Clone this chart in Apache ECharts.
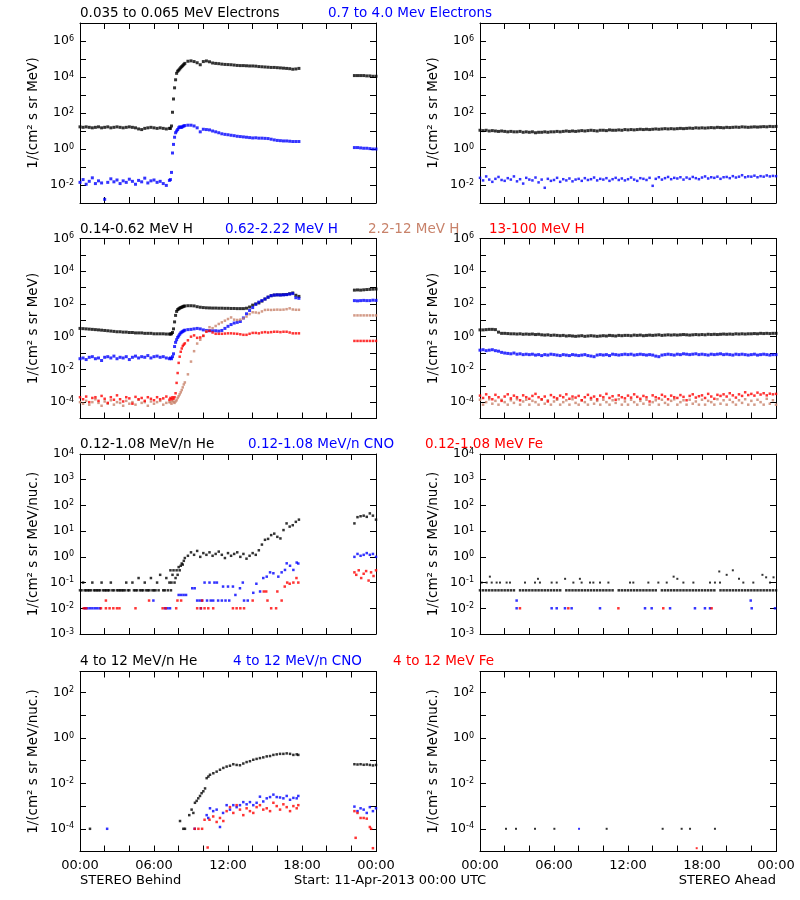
<!DOCTYPE html>
<html><head><meta charset="utf-8">
<script src="https://cdn.jsdelivr.net/npm/echarts@6/dist/echarts.min.js"></script>
<style>html,body{margin:0;padding:0;background:#fff}#c{width:800px;height:900px}</style>
</head><body><div id="c"></div><script>
// ---------------- DATA ----------------
// Hours (UTC) of STEREO Behind samples: 15-min, denser around onset, data gap 17:45-22:15
const hoursBehind = [
 0,0.25,0.5,0.75,1,1.25,1.5,1.75,2,2.25,2.5,2.75,3,3.25,3.5,3.75,4,4.25,4.5,4.75,5,5.25,5.5,5.75,6,6.25,6.5,6.75,7,7.25,
 7.333,7.417,7.5,7.583,7.667,7.75,7.833,7.917,8,8.083,8.167,8.25,8.333,8.417,8.5,
 8.75,9,9.25,9.5,9.75,10,10.25,10.5,10.75,11,11.25,11.5,11.75,12,12.25,12.5,12.75,13,13.25,13.5,13.75,14,14.25,14.5,14.75,15,15.25,15.5,15.75,16,16.25,16.5,16.75,17,17.25,17.5,17.75,
 22.25,22.5,22.75,23,23.25,23.5,23.75,24
];
// Hours of STEREO Ahead samples (every 15 min)
const hoursAhead = [
 0,0.25,0.5,0.75,1,1.25,1.5,1.75,2,2.25,2.5,2.75,3,3.25,3.5,3.75,4,4.25,4.5,4.75,5,5.25,5.5,5.75,
 6,6.25,6.5,6.75,7,7.25,7.5,7.75,8,8.25,8.5,8.75,9,9.25,9.5,9.75,10,10.25,10.5,10.75,11,11.25,11.5,11.75,
 12,12.25,12.5,12.75,13,13.25,13.5,13.75,14,14.25,14.5,14.75,15,15.25,15.5,15.75,16,16.25,16.5,16.75,17,17.25,17.5,17.75,
 18,18.25,18.5,18.75,19,19.25,19.5,19.75,20,20.25,20.5,20.75,21,21.25,21.5,21.75,22,22.25,22.5,22.75,23,23.25,23.5,23.75,24
];

// Row 1: electrons, 1/(cm2 s sr MeV)
const elecLowBehind = [
 17,16,17,16,15,16,17,15,16,17,15,16,17,16,15,16,17,16,15,13,12,14,15,16,15,14,15,14,13,14,
 14,19,110,600,2500,7000,16000,21000,24000,28000,33000,38000,43000,50000,57000,
 75000,79000,72000,62000,48000,72000,78000,70000,60000,57000,55000,52000,50000,49000,48000,46000,44000,43000,43000,42000,41000,41000,40000,38000,37000,36000,35000,34000,34000,33000,32000,31000,30000,29000,27000,28000,30000,
 12000,12000,12000,12000,11500,11500,11000,11000
];
const elecHighBehind = [
 0.014,0.02,0.011,0.016,0.025,0.012,0.017,0.013,0.0016,0.014,0.022,0.015,0.019,0.012,0.017,0.014,0.021,0.016,0.011,0.018,0.015,0.024,0.013,0.017,0.019,0.014,0.016,0.012,0.0095,0.018,
 0.02,0.05,0.6,1.8,4.5,8,10,12,15,17,16,16,18,19,20,
 21,21,19,15,9,12.5,12,11.5,10,9,8,7,6.5,6.2,5.8,5.5,5.1,4.9,4.7,4.5,4.3,4.1,4.2,4.0,4.0,3.9,3.8,3.5,3.2,3.0,2.9,2.8,2.8,2.7,2.6,2.6,2.6,
 1.2,1.2,1.15,1.1,1.1,1.05,1.0,1.0
];
const elecLowAhead = [
 11,10.5,11,10,10.5,10,9.5,10, 9.5,9,9.5,9,9,9.5,8.5,9, 8.5,9,8,8.5,8.5,9,8.5,9, 9,9.5,9,9.5,10,9.5,10,9.5,
 10,10.5,10,10.5,11,10.5,10,11, 11,10.5,11.5,11,11,11.5,11,12, 11.5,12,11.5,12,12.5,12,12.5,12, 12.5,13,12.5,13,13.5,13,13.5,13,
 13.5,14,13.5,14,14.5,14,15,14.5, 15,14.5,15,15.5,15,16,15.5,15, 16,15.5,16,16.5,16,17,16.5,16, 16.5,17,16.5,17,17.5,17,18,17.5, 18
];
const elecHighAhead = [
 0.025,0.018,0.03,0.02,0.015,0.022,0.028,0.019, 0.017,0.024,0.02,0.03,0.016,0.021,0.012,0.025, 0.02,0.018,0.026,0.014,0.02,0.007,0.022,0.017, 0.019,0.025,0.015,0.021,0.018,0.023,0.016,0.02,
 0.022,0.017,0.024,0.019,0.021,0.026,0.018,0.022, 0.02,0.024,0.017,0.021,0.025,0.019,0.023,0.018, 0.021,0.026,0.02,0.017,0.024,0.022,0.019,0.025, 0.009,0.022,0.027,0.02,0.024,0.028,0.021,0.025,
 0.023,0.027,0.02,0.026,0.022,0.028,0.024,0.021, 0.026,0.03,0.023,0.027,0.025,0.029,0.022,0.027, 0.028,0.024,0.031,0.026,0.029,0.035,0.027,0.03, 0.029,0.033,0.027,0.031,0.029,0.034,0.03,0.032, 0.031
];

// Row 2: protons
const protLowBehind = [
 3.2,3.1,3.0,2.9,2.8,2.7,2.6,2.5,2.4,2.3,2.2,2.1,2.0,2.0,1.9,1.9,1.8,1.8,1.7,1.7,1.7,1.6,1.6,1.6,1.5,1.5,1.5,1.5,1.45,1.45,
 1.45,1.5,1.8,3,8,20,35,45,50,55,60,63,68,72,75,
 78,78,76,68,63,60,58,57,56,56,55,55,54,54,53,53,52,52,52,55,65,85,100,115,150,200,260,320,350,360,360,370,380,420,470,340,290,
 700,720,700,730,760,780,800,820
];
const protMidBehind = [
 0.045,0.05,0.04,0.055,0.06,0.045,0.05,0.035,0.055,0.06,0.05,0.065,0.045,0.055,0.05,0.06,0.04,0.055,0.065,0.05,0.06,0.055,0.07,0.05,0.06,0.065,0.055,0.06,0.05,0.045,
 0.05,0.045,0.06,0.09,0.25,0.45,0.65,0.9,1.1,1.4,1.7,1.9,2.1,2.3,2.5,
 2.7,2.8,3.0,3.2,3.0,2.6,2.4,2.3,2.3,2.3,2.2,2.4,3.2,4.3,5.5,6.8,7.5,8.5,14,25,40,60,95,130,160,200,260,320,350,360,350,360,370,400,430,240,220,
 160,155,160,165,160,160,170,165
];
const protHighBehind = [
 1e-4,8e-5,1.2e-4,7e-5,1e-4,1.5e-4,9e-5,6e-5,1.1e-4,8e-5,1.3e-4,7e-5,1e-4,9e-5,6e-5,1.2e-4,8e-5,1e-4,7e-5,1.4e-4,9e-5,1e-4,6e-5,1.1e-4,8e-5,1e-4,1.2e-4,7e-5,9e-5,1e-4,
 1e-4,8e-5,1.2e-4,1e-4,9e-5,1.1e-4,1.3e-4,1.8e-4,2.3e-4,3e-4,4e-4,5.5e-4,8e-4,1.2e-3,1.6e-3,
 5e-3,0.03,0.13,0.38,0.65,1.1,2.2,3.8,3.3,4.5,6,7.5,9.5,12,15,11,10.5,11,13,17,24,31,30,28,35,43,44,43,44,45,44,45,48,54,46,44,44,
 20,20,20,20,20,20,20,20
];
const protTopBehind = [
 2e-4,1.5e-4,2.2e-4,1e-4,1.8e-4,2e-4,1.2e-4,2.4e-4,1.6e-4,9e-5,2e-4,1.4e-4,2.6e-4,1.5e-4,1.1e-4,2e-4,1.7e-4,8e-5,2.1e-4,1.5e-4,1.8e-4,1.2e-4,2e-4,1.6e-4,1.3e-4,2e-4,1.5e-4,1.7e-4,2.2e-4,1.4e-4,
 1.8e-4,1.5e-4,2e-4,1.6e-4,2e-4,3.5e-4,1.5e-3,6e-3,0.025,0.06,0.12,0.19,0.27,0.33,0.39,
 0.6,1.0,1.2,0.85,0.9,1.15,2.0,2.3,1.8,1.5,1.5,1.5,1.55,1.6,1.6,1.55,1.5,1.4,1.3,1.3,1.5,1.7,1.7,1.6,1.8,1.9,1.8,1.9,2.0,2.0,1.9,2.0,2.0,1.8,1.6,1.6,1.6,
 0.55,0.55,0.55,0.55,0.55,0.55,0.55,0.55
];
const protLowAhead = [
 2.6,2.6,2.7,2.8,2.8,2.7,1.9,1.6, 1.6,1.55,1.5,1.5,1.45,1.5,1.4,1.45, 1.4,1.45,1.35,1.4,1.3,1.25,1.3,1.2, 1.25,1.2,1.15,1.2,1.1,1.15,1.1,1.05,
 1.1,1.15,1.05,1.1,1.15,1.1,1.05,1.1, 1.15,1.1,1.2,1.15,1.1,1.2,1.15,1.2, 1.2,1.15,1.25,1.2,1.25,1.15,1.2,1.25, 1.2,1.25,1.3,1.2,1.25,1.3,1.25,1.3,
 1.25,1.3,1.35,1.3,1.25,1.3,1.35,1.3, 1.35,1.3,1.4,1.35,1.4,1.35,1.4,1.45, 1.4,1.45,1.4,1.5,1.45,1.5,1.45,1.5, 1.5,1.55,1.5,1.6,1.55,1.6,1.55,1.6, 1.6
];
const protMidAhead = [
 0.15,0.16,0.14,0.15,0.16,0.14,0.13,0.11, 0.1,0.095,0.09,0.1,0.085,0.09,0.08,0.085, 0.08,0.085,0.075,0.08,0.07,0.08,0.075,0.085, 0.08,0.075,0.07,0.08,0.075,0.07,0.08,0.075,
 0.07,0.075,0.08,0.07,0.065,0.06,0.075,0.08, 0.075,0.08,0.07,0.085,0.08,0.075,0.08,0.085, 0.08,0.085,0.075,0.08,0.085,0.08,0.075,0.08, 0.075,0.065,0.06,0.075,0.08,0.085,0.08,0.075,
 0.085,0.08,0.09,0.085,0.08,0.085,0.09,0.08, 0.085,0.08,0.075,0.085,0.08,0.085,0.09,0.08, 0.085,0.08,0.075,0.085,0.08,0.085,0.08,0.075, 0.08,0.085,0.075,0.08,0.085,0.08,0.075,0.08, 0.08
];
const protHighAhead = [
 1.4e-4,7e-5,1e-4,1.5e-4,8e-5,1.2e-4,7e-5,1.4e-4, 1e-4,7e-5,1.3e-4,9e-5,1.5e-4,7e-5,1.1e-4,1.4e-4, 7e-5,1.2e-4,1e-4,7e-5,1.4e-4,8e-5,1.3e-4,7e-5, 1.1e-4,1.4e-4,7e-5,1e-4,1.3e-4,7e-5,1.5e-4,9e-5,
 7e-5,1.3e-4,1e-4,7e-5,1.4e-4,8e-5,1.2e-4,7e-5, 1.4e-4,1e-4,7e-5,1.3e-4,9e-5,1.5e-4,7e-5,1.1e-4, 7e-5,1.4e-4,1e-4,7e-5,1.2e-4,8e-5,1.4e-4,7e-5, 1e-4,1.3e-4,7e-5,1.4e-4,9e-5,7e-5,1.2e-4,1.5e-4,
 7e-5,1e-4,1.3e-4,7e-5,1.4e-4,8e-5,1.1e-4,7e-5, 1.4e-4,7e-5,1.2e-4,1e-4,7e-5,1.5e-4,8e-5,1.3e-4, 7e-5,1.4e-4,1e-4,7e-5,1.3e-4,9e-5,1.5e-4,7e-5, 1.2e-4,7e-5,1.4e-4,1e-4,7e-5,1.6e-4,8e-5,1.3e-4, 7e-5
];
const protTopAhead = [
 2.5e-4,1.8e-4,3e-4,2e-4,1.5e-4,2.8e-4,2e-4,1.2e-4, 2.2e-4,3e-4,1.7e-4,2.5e-4,2e-4,1.3e-4,2.6e-4,2e-4, 1.6e-4,2.4e-4,3.2e-4,2e-4,1.5e-4,2.2e-4,1.1e-4,2.7e-4, 2e-4,1.7e-4,2.5e-4,2e-4,3e-4,1.6e-4,2.2e-4,1.9e-4,
 2.4e-4,1.3e-4,2e-4,2.8e-4,1.8e-4,2.2e-4,1.5e-4,2.5e-4, 2e-4,3.2e-4,1.8e-4,2.3e-4,1.4e-4,2.6e-4,2e-4,1.7e-4, 2.5e-4,1.9e-4,3e-4,2.1e-4,1.6e-4,2.4e-4,2e-4,1.1e-4, 2.6e-4,2e-4,1.7e-4,2.8e-4,2.2e-4,1.5e-4,2.5e-4,2e-4,
 1.8e-4,2.7e-4,2.1e-4,1.3e-4,2.4e-4,3e-4,1.9e-4,2.3e-4, 2.6e-4,1.8e-4,3.2e-4,2.2e-4,1.6e-4,2.8e-4,2.4e-4,3e-4, 2.2e-4,3.5e-4,2.6e-4,1.9e-4,3e-4,2.4e-4,4e-4,2.7e-4, 3.2e-4,2.5e-4,3.8e-4,2.9e-4,3.5e-4,2.6e-4,3.3e-4,3e-4, 3.2e-4
];

// Row 3: 0.12-1.08 MeV/n heavy ions, 1/(cm2 s sr MeV/nuc.)
const heLowBehind = [
 0.05,0.1,0.05,0.05,0.1,0.05,0.05,0.1,0.05,0.05,0.1,0.05,0.05,0.05,0.05,0.1,0.05,0.1,0.05,0.15,0.05,0.1,0.05,0.15,0.05,0.1,0.2,0.05,0.15,0.1,
 0.3,0.1,0.2,0.3,0.1,0.15,0.3,0.2,0.4,0.3,0.45,0.55,0.5,0.7,0.9,
 1.1,1.5,1.2,1.7,1.0,1.4,1.2,1.5,1.1,1.3,1.6,1.2,0.9,1.4,1.1,1.3,1.5,1.0,1.3,0.85,1.1,1.4,1.2,1.8,3.0,4.6,5,7,8,6,5.2,11,20,15,17,23,28,
 20,35,38,40,36,49,40,28
];
// one-count (0.05) background samples of He Behind between the main samples
const heLowBehindBaseHours = [0.125,0.375,0.625,0.875,1.125,1.375,1.625,1.875,2.125,2.375,2.625,3.125,3.375,3.625,3.875,4.375,4.625,4.875,5.125,5.375,5.625,5.875,6.125,6.375,6.875,7.125,7.375];
const heLowBehindBase = [0.05,0.05,0.05,0.05,0.05,0.05,0.05,0.05,0.05,0.05,0.05,0.05,0.05,0.05,0.05,0.05,0.05,0.05,0.05,0.05,0.05,0.05,0.05,0.05,0.05,0.05,0.05];
const cnoLowBehindHours = [0.4,0.6,0.8,1.0,1.2,1.4,1.6,5.95,6.9,7.1,7.3,8.0,8.2,8.4,8.6,9.1,9.3,9.5,9.7,9.8,9.9,10.1,10.3,10.5,10.6,10.8,10.9,11.1,11.2,11.5,11.6,11.8,12.0,12.1,12.4,12.6,12.97,13.2,13.3,13.6,14.05,14.3,14.6,14.86,15.14,15.41,15.68,16.08,16.35,16.62,16.76,17.03,17.3,17.57,17.7,22.25,22.5,22.75,23,23.25,23.5,23.75,24];
const cnoLowBehind = [0.01,0.01,0.01,0.01,0.01,0.01,0.01,0.02,0.01,0.01,0.01,0.033,0.033,0.033,0.033,0.06,0.06,0.02,0.02,0.01,0.02,0.1,0.02,0.1,0.02,0.02,0.1,0.1,0.02,0.02,0.07,0.02,0.07,0.02,0.07,0.033,0.06,0.1,0.02,0.02,0.04,0.09,0.045,0.15,0.17,0.25,0.23,0.17,0.25,0.31,0.56,0.45,0.31,0.6,0.55,1.0,1.3,1.1,1.2,1.4,1.2,1.3,1.0];
const feLowBehindHours = [0.3,0.5,1.7,2.1,2.1,2.4,2.7,3.0,3.2,4.5,5.6,6.7,6.95,7.8,7.9,8.2,9.5,9.8,9.9,10.1,10.4,10.8,12.4,12.7,13.0,13.3,14.0,14.9,15.1,15.2,15.5,15.9,16.0,16.35,16.6,16.8,17.0,17.3,17.55,17.7,22.25,22.4,22.6,22.8,23.0,23.2,23.4,23.6,23.8,24];
const feLowBehind = [0.01,0.01,0.01,0.02,0.01,0.01,0.01,0.01,0.01,0.01,0.02,0.01,0.01,0.01,0.02,0.02,0.01,0.01,0.02,0.01,0.01,0.01,0.01,0.01,0.01,0.01,0.02,0.045,0.045,0.02,0.01,0.01,0.045,0.02,0.07,0.1,0.09,0.1,0.15,0.1,0.25,0.2,0.3,0.15,0.22,0.28,0.12,0.25,0.18,0.3];
const heLowAhead = [
 0.05,0.05,0.05,0.05,0.05,0.05,0.05,0.05, 0.05,0.05,0.05,0.05,null,0.05,0.05,0.05, 0.05,0.05,0.05,0.05,0.05,0.05,0.05,0.05, 0.05,0.05,0.05,null,0.05,0.05,0.05,0.05,
 0.05,0.05,0.05,0.05,0.05,0.05,0.05,0.05, 0.05,0.05,0.05,0.05,null,0.05,0.05,0.05, 0.05,0.05,0.05,0.05,0.05,0.05,0.05,0.05, 0.05,0.05,null,0.05,0.05,0.05,0.05,0.05,
 0.05,0.05,0.05,0.05,0.05,0.05,0.05,0.05, 0.05,0.05,0.05,0.05,0.05,null,0.05,0.05, 0.05,0.05,0.05,0.05,0.05,0.05,0.05,0.05, 0.05,0.05,0.05,0.05,0.05,0.05,0.05,0.05, 0.05
];
const heLowAheadExtraHours = [0.14,0.54,0.8,0.95,1.35,1.62,2.16,2.43,3.65,4.46,4.7,4.86,5.81,6.22,6.9,7.57,8.1,8.24,8.92,9.19,9.73,10.41,12.16,12.43,13.65,14.46,15.14,15.7,16.0,16.49,17.3,18.65,19.05,19.4,19.46,20.0,20.5,21.0,21.35,22.16,22.9,23.2,23.51,23.8];
const heLowAheadExtra = [0.1,0.1,0.17,0.1,0.1,0.1,0.1,0.1,0.1,0.1,0.14,0.1,0.1,0.1,0.14,0.1,0.14,0.1,0.1,0.1,0.1,0.1,0.1,0.1,0.1,0.1,0.1,0.17,0.14,0.1,0.1,0.1,0.1,0.27,0.1,0.2,0.3,0.14,0.1,0.1,0.2,0.16,0.1,0.16];
const cnoLowAheadHours = [2.97,2.97,5.81,6.22,6.89,7.43,9.73,13.38,13.92,15.41,17.43,18.24,18.65,21.95,22.03,23.92];
const cnoLowAhead = [0.01,0.02,0.01,0.01,0.01,0.01,0.01,0.01,0.01,0.01,0.01,0.01,0.01,0.02,0.01,0.01];
const feLowAheadHours = [3.24,7.16,11.22,14.86,18.78];
const feLowAhead = [0.01,0.01,0.01,0.01,0.01];

// Row 4: 4-12 MeV/n heavy ions
const heHighBehindHours = [0.81,8.11,8.38,8.51,8.86,9.05,9.19,9.32,9.46,9.59,9.73,9.86,10.0,10.14,10.27,10.41,10.54,10.81,11.08,11.35,11.62,11.89,12.16,12.43,12.7,12.97,13.24,13.51,13.78,14.05,14.32,14.59,14.86,15.14,15.41,15.68,15.95,16.22,16.49,16.76,17.03,17.3,17.57,17.7,22.25,22.5,22.75,23,23.25,23.5,23.75,24];
const heHighBehind = [1e-4,2.2e-4,1e-4,1e-4,4e-4,7e-4,5e-4,1.4e-3,1.7e-3,2.2e-3,2.8e-3,3.7e-3,4.5e-3,6e-3,0.017,0.02,0.024,0.028,0.033,0.04,0.048,0.055,0.06,0.07,0.065,0.063,0.075,0.087,0.095,0.11,0.12,0.13,0.14,0.155,0.16,0.18,0.19,0.2,0.2,0.21,0.2,0.18,0.19,0.18,0.07,0.068,0.07,0.066,0.068,0.065,0.062,0.065];
const cnoHighBehindHours = [2.2,9.3,10.27,10.4,10.54,10.8,11.08,11.35,11.6,11.89,12.16,12.43,12.7,12.97,13.24,13.51,13.78,14.05,14.32,14.59,14.86,15.14,15.41,15.68,15.95,16.22,16.49,16.76,17.03,17.3,17.57,17.7,22.25,22.5,22.75,23,23.25,23.5,23.75,24];
const cnoHighBehind = [1e-4,1e-4,4e-4,3e-4,8e-4,6e-4,7e-4,1.2e-4,5e-4,1.1e-3,7e-4,1.1e-3,9e-4,1.1e-3,1.5e-3,1.2e-3,1.5e-3,1.1e-3,1.4e-3,2.6e-3,1.6e-3,2.2e-3,2.5e-3,3.2e-3,2.5e-3,2.4e-3,2.2e-3,2.8e-3,1.9e-3,2.3e-3,2.2e-3,2.8e-3,9.5e-4,6e-4,8e-4,7e-4,5e-4,9e-4,6e-4,8e-4];
const feHighBehindHours = [9.3,9.6,9.9,10.1,10.35,10.5,10.8,11.08,11.35,11.62,11.89,12.16,12.43,12.7,12.97,13.24,13.51,13.78,14.05,14.32,14.59,14.86,15.14,15.41,15.68,15.95,16.22,16.49,16.76,17.03,17.3,17.57,17.7,22.25,22.35,22.5,22.75,23,23.25,23.5,23.6,23.75];
const feHighBehind = [1e-4,1e-4,1e-4,2.5e-4,1.5e-5,2.5e-4,3.5e-4,2e-4,3e-4,2.2e-4,6e-4,9e-4,5e-4,1.1e-3,7e-4,4e-4,8e-4,6e-4,5e-4,9e-4,1.1e-3,7e-4,8e-4,6e-4,1.4e-3,1e-3,7e-4,1.2e-3,9e-4,6e-4,1e-3,8e-4,1.1e-3,6e-4,4e-5,5e-4,3e-4,3e-4,2.8e-4,1.2e-4,1e-4,1.4e-5];
const heHighAheadHours = [2.11,2.92,4.46,6.03,10.27,14.81,16.35,17.03,19.05];
const heHighAhead = [1e-4,1e-4,1e-4,1e-4,1e-4,1e-4,1e-4,1e-4,1e-4];
const cnoHighAheadHours = [8.03];
const cnoHighAhead = [1e-4];
const feHighAheadHours = [17.57];
const feHighAhead = [1.4e-5];

// Text
const xTickLabels = ['00:00','06:00','12:00','18:00','00:00'];
const yTitleMeV = '1/(cm\u00b2 s sr MeV)';
const yTitleNuc = '1/(cm\u00b2 s sr MeV/nuc.)';

// ---------------- LAYOUT / STYLE ----------------
const FONT = '"DejaVu Sans", sans-serif';
const BLACK = '#000000', BLUE = '#0000ff', BROWN = '#c8826a', RED = '#ff0000';
const rowTops = [23, 238.5, 454, 671.5];
const colLefts = [80, 480];
const yRanges = [[1e-3, 1e7], [1e-5, 1e6], [1e-3, 1e4], [1e-5, 850]];
const yLabelStep = [2, 2, 1, 2];
const yTitles = [yTitleMeV, yTitleMeV, yTitleNuc, yTitleNuc];

function pts(h, v) {
  if (h.length !== v.length) console.error('length mismatch', h.length, v.length);
  const out = [];
  for (let i = 0; i < h.length; i++) if (v[i] != null) out.push([h[i], v[i]]);
  return out;
}
function expLabel(v, step) {
  const e = Math.log10(v), r = Math.round(e);
  if (Math.abs(e - r) > 0.02 || r % step !== 0) return '';
  return '10{s|' + r + '}';
}

const grid = [], xAxis = [], yAxis = [], series = [];
for (let row = 0; row < 4; row++) {
  for (let col = 0; col < 2; col++) {
    const g = row * 2 + col;
    grid.push({left: colLefts[col], top: rowTops[row], width: 296, height: 180});
    const axLine = {show: true, onZero: false, lineStyle: {color: BLACK, width: 1}};
    const tick = {show: true, inside: true, length: 6, lineStyle: {color: BLACK, width: 1}};
    xAxis.push({
      type: 'value', gridIndex: g, min: 0, max: 24, interval: 2, position: 'bottom',
      axisLine: axLine, axisTick: tick, splitLine: {show: false},
      axisLabel: {show: row === 3, color: BLACK, fontFamily: FONT, fontSize: 13, margin: 8,
        formatter: v => (v % 6 === 0 ? xTickLabels[v / 6] : '')}
    });
    xAxis.push({
      type: 'value', gridIndex: g, min: 0, max: 24, interval: 2, position: 'top',
      axisLine: axLine, axisTick: tick, splitLine: {show: false}, axisLabel: {show: false}
    });
    const [ymin, ymax] = yRanges[row];
    const step = yLabelStep[row];
    yAxis.push({
      type: 'log', logBase: 10, gridIndex: g, min: ymin, max: ymax, interval: 1, splitNumber: 12,
      position: 'left', axisLine: axLine, axisTick: tick, splitLine: {show: false}, minorTick: {show: false},
      axisLabel: {color: BLACK, fontFamily: FONT, fontSize: 12.5, margin: 6,
        formatter: v => expLabel(v, step),
        rich: {s: {fontSize: 8, fontFamily: FONT, color: BLACK, verticalAlign: 'top'}}},
      name: yTitles[row], nameLocation: 'middle', nameRotate: 90, nameGap: 40,
      nameTextStyle: {color: BLACK, fontFamily: FONT, fontSize: 13.5}
    });
    yAxis.push({
      type: 'log', logBase: 10, gridIndex: g, min: ymin, max: ymax, interval: 1, splitNumber: 12,
      position: 'right', axisLine: axLine, axisTick: tick, splitLine: {show: false}, axisLabel: {show: false}
    });
  }
}
function add(g, data, color, size) {
  series.push({type: 'scatter', xAxisIndex: 2 * g, yAxisIndex: 2 * g, data: data,
    symbol: 'rect', symbolSize: size || 2.5, itemStyle: {color: color}, silent: true, animation: false});
}
// Row 1
add(0, pts(hoursBehind, elecLowBehind), BLACK, 3);
add(0, pts(hoursBehind, elecHighBehind), BLUE, 3);
add(1, pts(hoursAhead, elecLowAhead), BLACK, 3);
add(1, pts(hoursAhead, elecHighAhead), BLUE, 2.5);
// Row 2
add(2, pts(hoursBehind, protLowBehind), BLACK, 3);
add(2, pts(hoursBehind, protMidBehind), BLUE, 3);
add(2, pts(hoursBehind, protHighBehind), BROWN, 2.5);
add(2, pts(hoursBehind, protTopBehind), RED, 2.5);
add(3, pts(hoursAhead, protLowAhead), BLACK, 3);
add(3, pts(hoursAhead, protMidAhead), BLUE, 3);
add(3, pts(hoursAhead, protHighAhead), BROWN, 2.5);
add(3, pts(hoursAhead, protTopAhead), RED, 2.5);
// Row 3
add(4, pts(hoursBehind, heLowBehind), BLACK);
add(4, pts(heLowBehindBaseHours, heLowBehindBase), BLACK);
add(4, pts(cnoLowBehindHours, cnoLowBehind), BLUE);
add(4, pts(feLowBehindHours, feLowBehind), RED);
add(5, pts(hoursAhead, heLowAhead), BLACK, 2.5);
add(5, pts(heLowAheadExtraHours, heLowAheadExtra), BLACK, 2);
add(5, pts(cnoLowAheadHours, cnoLowAhead), BLUE);
add(5, pts(feLowAheadHours, feLowAhead), RED);
// Row 4
add(6, pts(heHighBehindHours, heHighBehind), BLACK);
add(6, pts(cnoHighBehindHours, cnoHighBehind), BLUE);
add(6, pts(feHighBehindHours, feHighBehind), RED);
add(7, pts(heHighAheadHours, heHighAhead), BLACK, 2);
add(7, pts(cnoHighAheadHours, cnoHighAhead), BLUE, 2);
add(7, pts(feHighAheadHours, feHighAhead), RED, 2);

const titleFont = '13.5px ' + FONT;
const titleItems = [
  [80, 13.5, '0.035 to 0.065 MeV Electrons', BLACK],
  [328, 13.5, '0.7 to 4.0 Mev Electrons', BLUE],
  [80, 229, '0.14-0.62 MeV H', BLACK],
  [225, 229, '0.62-2.22 MeV H', BLUE],
  [368, 229, '2.2-12 MeV H', BROWN],
  [489, 229, '13-100 MeV H', RED],
  [80, 444, '0.12-1.08 MeV/n He', BLACK],
  [248, 444, '0.12-1.08 MeV/n CNO', BLUE],
  [425, 444, '0.12-1.08 MeV Fe', RED],
  [80, 661, '4 to 12 MeV/n He', BLACK],
  [233, 661, '4 to 12 MeV/n CNO', BLUE],
  [393, 661, '4 to 12 MeV Fe', RED]
];
const graphic = titleItems.map(t => ({type: 'text', x: t[0], y: t[1], silent: true,
  style: {text: t[2], fill: t[3], font: titleFont, align: 'left', verticalAlign: 'middle'}}));
const footFont = '13px ' + FONT;
graphic.push({type: 'text', x: 80, y: 881, silent: true, style: {text: 'STEREO Behind', fill: BLACK, font: footFont, align: 'left', verticalAlign: 'middle'}});
graphic.push({type: 'text', x: 294, y: 881, silent: true, style: {text: 'Start: 11-Apr-2013 00:00 UTC', fill: BLACK, font: footFont, align: 'left', verticalAlign: 'middle'}});
graphic.push({type: 'text', x: 776, y: 881, silent: true, style: {text: 'STEREO Ahead', fill: BLACK, font: footFont, align: 'right', verticalAlign: 'middle'}});

const chart = echarts.init(document.getElementById('c'), null, {renderer: 'canvas', width: 800, height: 900});
chart.setOption({backgroundColor: '#ffffff', animation: false, grid, xAxis, yAxis, series, graphic});
</script></body></html>
